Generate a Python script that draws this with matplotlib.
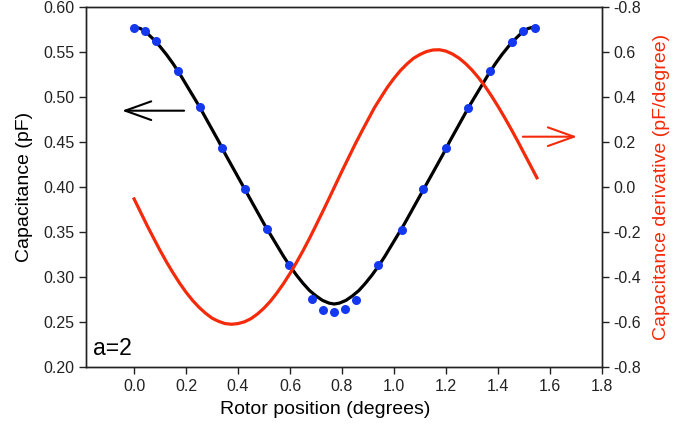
import matplotlib
matplotlib.use("Agg")
import matplotlib.pyplot as plt

plt.rcParams['font.family'] = ['Liberation Sans', 'DejaVu Sans']

# measured capacitance points
pos_meas = [0.0, 0.041, 0.083, 0.167, 0.255, 0.34, 0.426, 0.512, 0.597, 0.683, 0.726,
            0.768, 0.813, 0.855, 0.940, 1.03, 1.111, 1.199, 1.283, 1.369, 1.455, 1.497, 1.542]
cap_meas = [0.577, 0.573, 0.562, 0.529, 0.489, 0.443, 0.398, 0.353, 0.313, 0.276, 0.263,
            0.261, 0.264, 0.274, 0.313, 0.352, 0.398, 0.443, 0.488, 0.529, 0.561, 0.573, 0.577]

# fitted capacitance curve
pos_fit = [0.0, 0.025, 0.05, 0.075, 0.10, 0.125, 0.15, 0.175, 0.20, 0.225, 0.25, 0.275,
           0.30, 0.325, 0.35, 0.375, 0.40, 0.425, 0.45, 0.475, 0.50, 0.525, 0.55, 0.575,
           0.60, 0.625, 0.65, 0.675, 0.70, 0.725, 0.75, 0.77,
           0.79, 0.815, 0.84, 0.865, 0.89, 0.915, 0.94, 0.965, 0.99, 1.015, 1.04, 1.065,
           1.09, 1.115, 1.14, 1.165, 1.19, 1.215, 1.24, 1.265, 1.29, 1.315, 1.34, 1.365,
           1.39, 1.415, 1.44, 1.465, 1.49, 1.515, 1.54]
cap_fit = [0.578, 0.576, 0.571, 0.564, 0.556, 0.547, 0.537, 0.526, 0.514, 0.502, 0.490, 0.477,
           0.464, 0.451, 0.437, 0.424, 0.411, 0.398, 0.385, 0.372, 0.359, 0.347, 0.335, 0.323,
           0.312, 0.302, 0.293, 0.285, 0.279, 0.274, 0.271, 0.270,
           0.271, 0.274, 0.279, 0.285, 0.293, 0.302, 0.312, 0.323, 0.335, 0.347, 0.359, 0.372,
           0.385, 0.398, 0.411, 0.424, 0.437, 0.451, 0.464, 0.477, 0.490, 0.502, 0.514, 0.526,
           0.537, 0.547, 0.556, 0.564, 0.571, 0.576, 0.578]

# derivative of the fit
pos_der = [0.0, 0.025, 0.05, 0.075, 0.10, 0.125, 0.15, 0.175, 0.20, 0.225, 0.25, 0.275,
           0.30, 0.325, 0.35, 0.375, 0.40, 0.425, 0.45, 0.475, 0.50, 0.525, 0.55, 0.575,
           0.60, 0.625, 0.65, 0.675, 0.70, 0.725, 0.75, 0.775, 0.80, 0.825, 0.85, 0.875,
           0.90, 0.925, 0.95, 0.975, 1.00, 1.025, 1.05, 1.075, 1.10, 1.125, 1.15, 1.175,
           1.20, 1.225, 1.25, 1.275, 1.30, 1.325, 1.35, 1.375, 1.40, 1.425, 1.45, 1.475,
           1.50, 1.525, 1.55]
der = [-0.053, -0.112, -0.171, -0.227, -0.282, -0.334, -0.382, -0.427, -0.468, -0.504,
       -0.535, -0.561, -0.583, -0.597, -0.607, -0.610, -0.607, -0.599, -0.585, -0.564,
       -0.538, -0.507, -0.470, -0.429, -0.384, -0.335, -0.283, -0.228, -0.170, -0.111,
       -0.051, 0.010, 0.071, 0.130, 0.189, 0.245, 0.299, 0.353, 0.399, 0.444, 0.483,
       0.518, 0.547, 0.572, 0.589, 0.602, 0.609, 0.610, 0.604, 0.591, 0.573, 0.549,
       0.520, 0.486, 0.448, 0.405, 0.359, 0.310, 0.259, 0.206, 0.151, 0.096, 0.041]

xticks = [0.0, 0.2, 0.4, 0.6, 0.8, 1.0, 1.2, 1.4, 1.6, 1.8]
yticks_l = [0.20, 0.25, 0.30, 0.35, 0.40, 0.45, 0.50, 0.55, 0.60]
yticks_r = [-0.8, -0.6, -0.4, -0.2, 0.0, 0.2, 0.4, 0.6, 0.8]
yticklabels_r = ['-0.8', '-0.6', '-0.4', '-0.2', '0.0', '0.2', '0.4', '0.6', '-0.8']

red = '#f42a0a'
blue = '#1438f0'
edge = '#222222'

fig = plt.figure(figsize=(6.86, 4.30), dpi=100)
ax = fig.add_axes([0.1254, 0.1465, 0.752, 0.8372])
ax2 = ax.twinx()

ax.plot(pos_fit, cap_fit, color='black', lw=2.3, zorder=2)
ax.plot(pos_meas, cap_meas, 'o', color=blue, ms=6.5, mec='none', zorder=3)
ax2.plot(pos_der, der, color=red, lw=2.3)

ax.set_xlim(-0.185, 1.8)
ax.set_ylim(0.20, 0.60)
ax2.set_ylim(-0.8, 0.8)

ax.set_xticks(xticks)
ax.set_xticklabels(['%.1f' % v for v in xticks])
ax.set_yticks(yticks_l)
ax.set_yticklabels(['%.2f' % v for v in yticks_l])
ax2.set_yticks(yticks_r)
ax2.set_yticklabels(yticklabels_r)

for a in (ax, ax2):
    a.tick_params(direction='out', length=5, width=1, color=edge, labelsize=11.5, labelcolor='#222222')
    for s in a.spines.values():
        s.set_color(edge)
        s.set_linewidth(1)

ax.set_xlabel('Rotor position (degrees)', fontsize=14)
ax.xaxis.set_label_coords(0.463, -0.095)
ax.set_ylabel('Capacitance (pF)', fontsize=14)
ax.yaxis.set_label_coords(-0.103, 0.5)
ax2.set_ylabel('Capacitance derivative (pF/degree)', fontsize=14, color=red, labelpad=8)

# arrows pointing to the matching axes
head = '->,head_length=0.67,head_width=0.24'
ax.annotate('', xy=(-0.057, 0.4848), xytext=(0.203, 0.4848),
            arrowprops=dict(arrowstyle=head, color='black', lw=1.5, mutation_scale=28))
ax2.annotate('', xy=(1.715, 0.2236), xytext=(1.485, 0.2236),
             arrowprops=dict(arrowstyle=head, color=red, lw=1.5, mutation_scale=28))

ax.text(0.014, 0.033, 'a=2', transform=ax.transAxes, fontsize=16.5)

fig.savefig('out.png', dpi=100)
